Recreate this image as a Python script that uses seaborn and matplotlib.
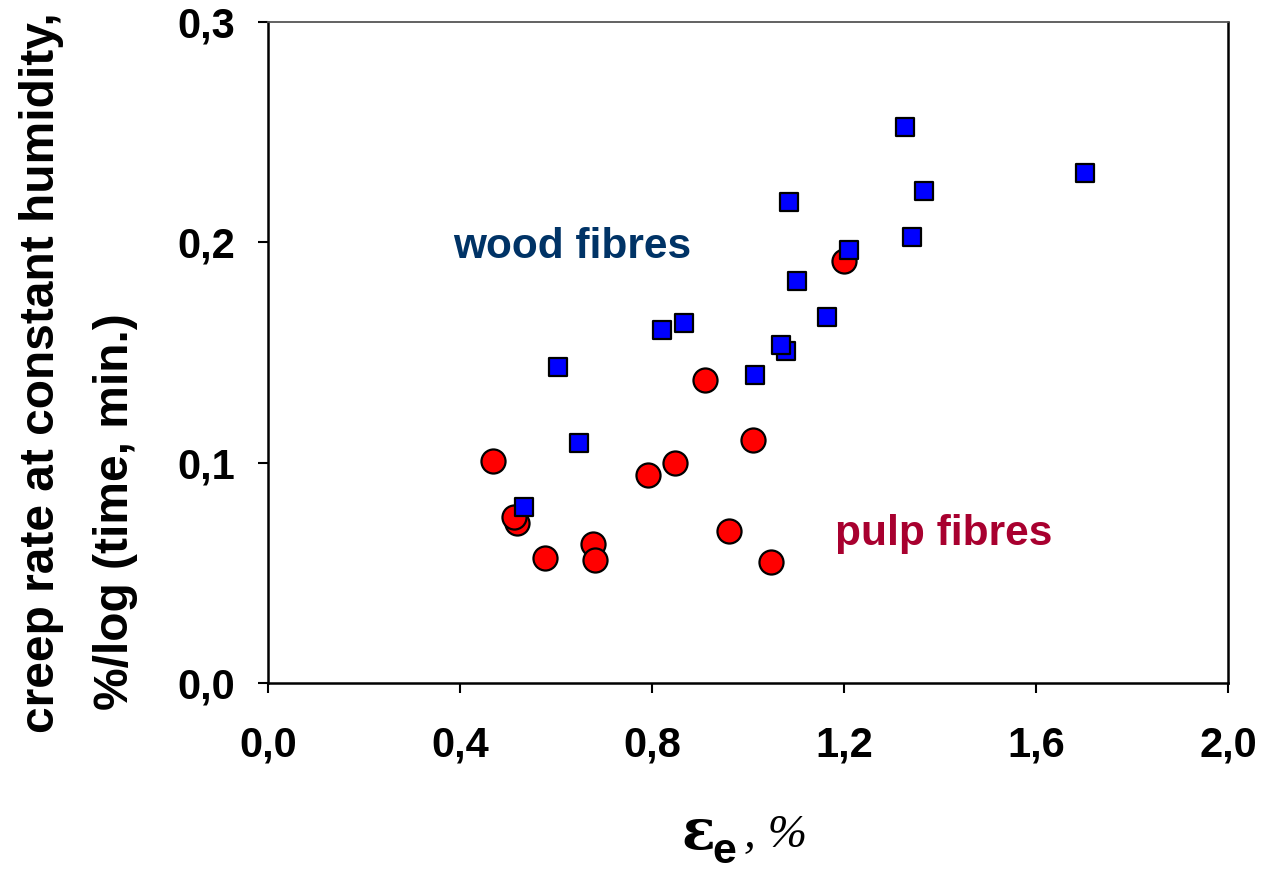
import matplotlib
matplotlib.use("Agg")
import matplotlib.pyplot as plt
import seaborn as sns
import pandas as pd

# ---- data ----
pulp_x = [1.200, 0.910, 1.010, 0.469, 0.848, 0.792, 0.519, 0.5125, 0.577, 0.677, 0.681, 0.960, 1.048]
pulp_y = [0.1914, 0.1377, 0.1105, 0.1009, 0.1000, 0.0945, 0.0727, 0.0755, 0.0568, 0.0632, 0.0559, 0.0691, 0.0550]

wood_x = [1.702, 1.327, 1.367, 1.342, 1.210, 1.085, 1.102, 1.165, 0.867, 0.821, 1.079, 1.069, 1.015, 0.604, 0.648, 0.533]
wood_y = [0.2314, 0.2523, 0.2232, 0.2023, 0.1964, 0.2182, 0.1823, 0.1659, 0.1632, 0.1600, 0.1509, 0.1532, 0.1400, 0.1432, 0.1091, 0.0800]

x_ticks = [0.0, 0.4, 0.8, 1.2, 1.6, 2.0]
x_tick_labels = ["0,0", "0,4", "0,8", "1,2", "1,6", "2,0"]
y_ticks = [0.0, 0.1, 0.2, 0.3]
y_tick_labels = ["0,0", "0,1", "0,2", "0,3"]

ylabel_line1 = "creep rate at constant humidity,"
ylabel_line2 = "%/log (time, min.)"
wood_label = "wood fibres"
pulp_label = "pulp fibres"

sns.set_theme(style="white")
plt.rcParams["font.family"] = ["Liberation Sans", "DejaVu Sans"]
plt.rcParams["font.weight"] = "bold"

W, H = 1261, 873
fig = plt.figure(figsize=(W / 100, H / 100), dpi=100)
ax = fig.add_axes([268 / W, 1 - 683 / H, (1228 - 268) / W, (683 - 22) / H])

pulp = pd.DataFrame({"x": pulp_x, "y": pulp_y})
wood = pd.DataFrame({"x": wood_x, "y": wood_y})

sns.scatterplot(data=pulp, x="x", y="y", ax=ax, marker="o", s=300,
                color="#FF0000", edgecolor="black", linewidth=1.6, zorder=3)
sns.scatterplot(data=wood, x="x", y="y", ax=ax, marker="s", s=150,
                color="#0000FF", edgecolor="black", linewidth=1.6, zorder=4)

ax.set_xlim(0, 2.0)
ax.set_ylim(0, 0.3)
ax.set_xticks(x_ticks)
ax.set_xticklabels(x_tick_labels)
ax.set_yticks(y_ticks)
ax.set_yticklabels(y_tick_labels)
ax.set_xlabel("")
ax.set_ylabel("")

ax.tick_params(axis="both", direction="out", length=7.5, width=1.5, color="black",
               labelsize=30, labelcolor="black")
ax.tick_params(axis="x", pad=23, bottom=True)
ax.tick_params(axis="y", pad=16, left=True)
for lab in ax.get_xticklabels() + ax.get_yticklabels():
    lab.set_fontweight("bold")

for side in ["left", "bottom", "right"]:
    ax.spines[side].set_color("black")
    ax.spines[side].set_linewidth(1.8)
ax.spines["top"].set_color("#555555")
ax.spines["top"].set_linewidth(1.3)

# annotations
ax.text(0.385, 0.1927, wood_label, color="#003366", fontsize=30.5, fontweight="bold",
        ha="left", va="baseline")
ax.text(1.181, 0.0627, pulp_label, color="#A8002F", fontsize=30.5, fontweight="bold",
        ha="left", va="baseline")

# y label (two lines)
fig.text(42 / W, 1 - 373 / H, ylabel_line1, rotation=90, ha="center", va="center",
         fontsize=34.5, fontweight="bold", color="black")
fig.text(115 / W, 1 - 512 / H, ylabel_line2, rotation=90, ha="center", va="center",
         fontsize=34.5, fontweight="bold", color="black")

# x label: epsilon with subscript e, then ", %"
fig.text(698 / W, 1 - 834 / H, "ε", ha="center", va="center", fontsize=40,
         fontweight="bold", family=["DejaVu Serif"], color="black")
fig.text(724 / W, 1 - 852 / H, "e", ha="center", va="center", fontsize=31,
         fontweight="bold", color="black")
fig.text(744 / W, 1 - 847 / H, ", %", ha="left", va="baseline", fontsize=34,
         fontstyle="italic", fontweight="normal", family=["Liberation Serif"], color="black")

fig.savefig("out.png", dpi=100)
